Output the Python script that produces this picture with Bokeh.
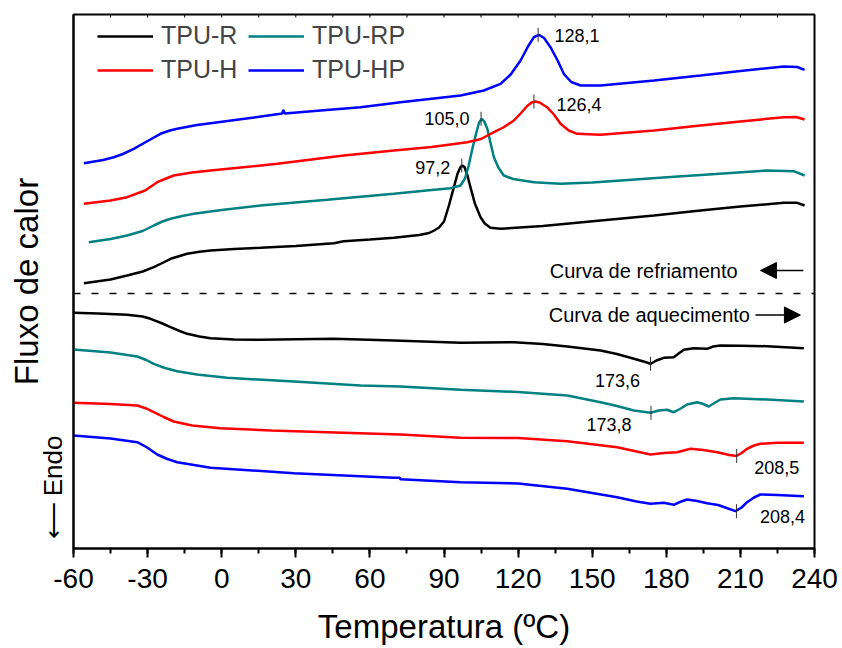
import math
from bokeh.plotting import figure
from bokeh.models import (Range1d, SingleIntervalTicker, FixedTicker, Legend, LegendItem,
                          Span, Label, Arrow, NormalHead, ColumnDataSource, Title)
from bokeh.core.properties import value
from bokeh.embed import file_html
from bokeh.resources import INLINE

FONT = "Liberation Sans"

# ---------------- data (temperature in ºC, heat flow in arbitrary units) ----------------
# Cooling curves (upper half)
r_cool_t = [-55.8, -45, -38.3, -32, -27.5, -24, -20.7, -17, -14, -9, -4.5, 5, 15.7, 30, 45.4, 49.4, 60, 69.7, 80, 84,
            86, 88, 90, 92, 94, 95.5, 96.7, 97.4, 98.3, 99.5, 100.7, 102.5, 104.8, 106.5, 108.8, 112.9, 130, 153.4,
            175, 193.8, 210, 227.6, 233, 236]
r_cool_y = [265.3, 269, 273, 277, 281.3, 285.5, 289.7, 292.5, 294.7, 296.7, 298, 299.5, 300.7, 302.5, 305.3, 307.3,
            309, 310.7, 313.5, 315.5, 318, 321, 327, 343, 361.3, 375, 381.5, 383, 381.5, 373, 361.3, 345, 331.3,
            325, 320.7, 319.7, 322.5, 328, 333, 338, 342, 345.7, 345.7, 343]

rp_cool_t = [-53.8, -45, -38.3, -32, -27.5, -24, -20.7, -16, -11.3, 0, 15.7, 42.7, 69.7, 85, 92.6, 96.7, 98.5, 100,
             101.5, 103, 104.2, 105.3, 106.3, 107.5, 108.8, 110.2, 112, 114.2, 118, 126.4, 137.2, 150, 180.3, 200,
             220.8, 231.6, 236]
rp_cool_y = [306.3, 309.5, 313, 317.5, 323, 327, 329.7, 332.5, 334.7, 338.5, 343, 348.7, 354.7, 358.5, 360.3, 363,
             370, 383, 400, 415, 426, 429.7, 427, 420, 406, 391.3, 381, 373, 369.5, 366.3, 364.7, 366, 371.3, 374.5,
             378, 377.3, 373]

h_cool_t = [-55.8, -45, -38.3, -31, -26.1, -22, -19.4, -12, -4.5, 22.5, 49.4, 69.7, 85, 99.4, 105, 110.2, 114, 118.3,
            121, 123.7, 125.5, 127, 128.7, 131.7, 134.5, 137.2, 140.5, 143.9, 153.4, 175, 193.8, 210, 227.6, 232.5, 236]
h_cool_y = [344.7, 348, 351.3, 358, 366.3, 370.5, 373, 376, 378, 384.7, 393, 398, 401.5, 406.3, 409.5, 416.3, 421, 428,
            435, 442.5, 446, 447, 446, 441.3, 434, 424.7, 418, 414.7, 413.7, 418, 423, 427, 431.3, 431.5, 429]

hp_cool_t = [-55.8, -48, -43.7, -40, -35.6, -30, -24.8, -21, -18, -10, -4.5, 10, 23.8, 24.5, 25, 25.5, 40, 56.2, 72.4,
             96.7, 106.1, 112.9, 117, 121, 124, 126.4, 128.4, 130.5, 133.1, 136, 138.5, 141.5, 145.3, 153.4, 175,
             193.8, 210, 227.6, 233, 236]
hp_cool_y = [385.3, 388.5, 391.3, 394.5, 399.7, 407.5, 414.7, 418, 419.7, 423.5, 425.3, 430, 434.7, 435, 438.5, 435,
             438, 441.3, 446.3, 453, 458, 464.7, 474, 488, 502, 511.3, 513.7, 510.5, 501.3, 488, 474.7, 466.5, 463,
             463, 468, 473, 477.5, 482, 481.5, 478.7]

# Heating curves (lower half)
r_heat_t = [-60, -50, -38.3, -32, -28.8, -24.5, -20.7, -17, -14, -9, -4.5, 5, 15.7, 45.4, 69.7, 96.7, 118.3, 130,
            139.9, 153.4, 160, 166.9, 171.5, 173.6, 176, 179, 183, 185, 187.1, 191.1, 196.5, 199, 201.9, 210, 220.8,
            235.7]
r_heat_y = [235.7, 235, 233.7, 232, 229.7, 225.5, 221.3, 217.5, 214.7, 212, 210.3, 209, 208.7, 209.7, 208, 205.7,
            206.3, 204.5, 202, 198, 194.5, 189.7, 186.5, 184.7, 188, 190.7, 191.3, 195, 198.7, 200.3, 199.7, 202,
            203, 202.7, 202.3, 200.3]

rp_heat_t = [-60, -45, -34.2, -30.5, -27.5, -23, -18, -10, 2.2, 29.2, 56.2, 72.4, 96.7, 120, 139.9, 153.4, 160, 166.9,
             173.6, 177, 180.3, 183, 185.5, 188.4, 192.5, 195, 197.2, 199.5, 201.9, 207.3, 220.8, 235.7]
rp_heat_y = [199, 196, 192, 188.5, 184.7, 180.5, 177.3, 174, 170.7, 167, 163, 162, 158.7, 156.5, 153, 146.3, 142.5,
             138, 135.7, 138, 138.7, 136.3, 139.5, 144, 146.3, 144.5, 142, 145.5, 149, 150.3, 149, 147]

h_heat_t = [-60, -45, -34.2, -30.5, -27.5, -23.5, -19.4, -12, -0.5, 20, 42.7, 72.4, 96.7, 120, 139.9, 160.1, 168,
            173.6, 179, 184.4, 189.8, 195, 200.6, 205.5, 208.4, 210.5, 212.7, 215.5, 218.1, 225, 235.7]
h_heat_y = [145.7, 144.5, 143, 140, 136.3, 131.5, 127, 123, 120.3, 118, 116.3, 114, 110.7, 110.5, 107.3, 101.3, 97,
            94, 95.5, 96.3, 99.7, 98.5, 96.3, 93.5, 92.5, 95.5, 99.7, 103, 104.7, 105.7, 105.7]

hp_heat_t = [-60, -45, -34.2, -30.5, -26.1, -22, -18, -10, -4.5, 29.2, 69.7, 72, 72.4, 96.7, 120, 139.9, 160.1, 168,
             173.6, 179, 183, 185.5, 188.4, 192.5, 196.5, 201, 205, 208, 210.5, 212.7, 215.5, 218.1, 225, 235.7]
hp_heat_y = [113, 110, 106.3, 101.5, 94, 89.5, 86.3, 83, 80.7, 75.3, 70.7, 70.7, 69.2, 66.3, 65, 59.7, 51.3, 47,
             44.7, 45.7, 43.7, 46.5, 49, 47.5, 45.3, 43.5, 40, 37.3, 41, 46.3, 51, 54, 53.5, 52.3]

# Peak annotations
peak_t = [128.1, 126.4, 105.0, 97.2, 173.6, 173.8, 208.5, 208.4]
peak_y = [513.7, 447.0, 429.7, 383.0, 184.7, 135.7, 92.5, 37.3]
peak_labels = ["128,1", "126,4", "105,0", "97,2", "173,6", "173,8", "208,5", "208,4"]

series_names = ["TPU-R", "TPU-RP", "TPU-H", "TPU-HP"]
series_colors = ["#000000", "#008080", "#FF0000", "#0000FF"]

x_ticks = [-60, -30, 0, 30, 60, 90, 120, 150, 180, 210, 240]
x_tick_labels = ["-60", "-30", "0", "30", "60", "90", "120", "150", "180", "210", "240"]
top_ticks = list(range(-60, 241, 15))
separator_y = 255.0

# ---------------- figure ----------------
p = figure(width=842, height=648, output_backend="svg", toolbar_location=None,
           x_range=Range1d(-60, 240), y_range=Range1d(0, 534),
           min_border_left=73, min_border_right=28, min_border_top=14, min_border_bottom=100,
           background_fill_color="white", border_fill_color="white")
p.grid.visible = False
p.outline_line_color = "black"
p.outline_line_width = 2

# bottom axis
xa = p.xaxis[0]
xa.ticker = SingleIntervalTicker(interval=30, num_minor_ticks=2)
xa.major_label_overrides = {t: s for t, s in zip(x_ticks, x_tick_labels)}
xa.axis_line_width = 2
xa.major_tick_line_width = 2
xa.minor_tick_line_width = 2
xa.major_tick_out = 9
xa.major_tick_in = 0
xa.minor_tick_out = 5
xa.minor_tick_in = 0
xa.major_label_text_font = FONT
xa.major_label_text_font_size = "28px"
xa.major_label_text_color = "black"
xa.major_label_standoff = 11
xa.axis_label = "Temperatura (ºC)"
xa.axis_label_text_font = FONT
xa.axis_label_text_font_size = "33px"
xa.axis_label_text_font_style = "normal"
xa.axis_label_text_color = "black"
xa.axis_label_standoff = 17

# left axis: plain line, no ticks
ya = p.yaxis[0]
ya.ticker = FixedTicker(ticks=[])
ya.axis_line_width = 2
ya.major_tick_out = 0
ya.major_tick_in = 0
ya.minor_tick_out = 0
ya.minor_tick_in = 0

# "Endo" indicator and y title placed in the left margin
p.add_layout(Title(text="\u27f5\u2009Endo", text_font=FONT, text_font_size="26px", text_font_style="normal",
                   text_color="black", align="left", offset=10, standoff=12), "left")
p.add_layout(Title(text="Fluxo de calor", text_font=FONT, text_font_size="33px", text_font_style="normal",
                   text_color="black", align="center", standoff=-31), "left")

# small inward ticks along the top border
p.segment(x0=top_ticks, y0=[534] * len(top_ticks), x1=top_ticks, y1=[531] * len(top_ticks),
          line_color="black", line_width=1)

# curves
cool = [(r_cool_t, r_cool_y), (rp_cool_t, rp_cool_y), (h_cool_t, h_cool_y), (hp_cool_t, hp_cool_y)]
heat = [(r_heat_t, r_heat_y), (rp_heat_t, rp_heat_y), (h_heat_t, h_heat_y), (hp_heat_t, hp_heat_y)]
renderers = []
for (ct, cy), (ht, hy), col in zip(cool, heat, series_colors):
    r = p.line(ct, cy, line_color=col, line_width=2.5)
    p.line(ht, hy, line_color=col, line_width=2.5)
    renderers.append(r)

# separator
p.add_layout(Span(location=separator_y, dimension="width", line_color="black",
                  line_width=1.5, line_dash="7 11"))

# peak marks
p.segment(x0=peak_t, y0=[v - 7 for v in peak_y], x1=peak_t, y1=[v + 7 for v in peak_y],
          line_color="#333333", line_width=1)
lab_dx = [39, 45, -34, -29, -33, -42, 40, 46]
lab_dy = [1, 3, 0, 2, 17, 12, 11, 5]
src = ColumnDataSource(dict(x=peak_t, y=peak_y, t=peak_labels, dx=lab_dx, dy=lab_dy))
p.text(x="x", y="y", text="t", x_offset="dx", y_offset="dy", source=src,
       text_font=value(FONT), text_font_size="18px", text_align="center",
       text_baseline="middle", text_color="black")

# cooling / heating notes
p.add_layout(Label(x=132.8, y=278, text="Curva de refriamento", text_font=FONT, text_font_size="20px",
                   text_baseline="middle", text_align="left", text_color="black"))
p.add_layout(Label(x=132.4, y=233.5, text="Curva de aquecimento", text_font=FONT, text_font_size="20px",
                   text_baseline="middle", text_align="left", text_color="black"))
p.add_layout(Arrow(x_start=235.5, y_start=278, x_end=218.1, y_end=278, line_width=1.5, line_color="black",
                   end=NormalHead(size=16, fill_color="black", line_color="black")))
p.add_layout(Arrow(x_start=216.1, y_start=233.5, x_end=234.3, y_end=233.5, line_width=1.5, line_color="black",
                   end=NormalHead(size=16, fill_color="black", line_color="black")))

# legend (two columns)
def make_legend(idx, loc):
    lg = Legend(items=[LegendItem(label=series_names[i], renderers=[renderers[i]]) for i in idx],
                location=loc, orientation="vertical", margin=0, padding=0, spacing=5,
                glyph_width=56, glyph_height=20, label_standoff=8,
                label_text_font=FONT, label_text_font_size="25px",
                background_fill_alpha=0, border_line_alpha=0)
    p.add_layout(lg)

make_legend([0, 2], (24, 464))
make_legend([1, 3], (175, 464))

open("out.html", "w").write(file_html(p, INLINE))
